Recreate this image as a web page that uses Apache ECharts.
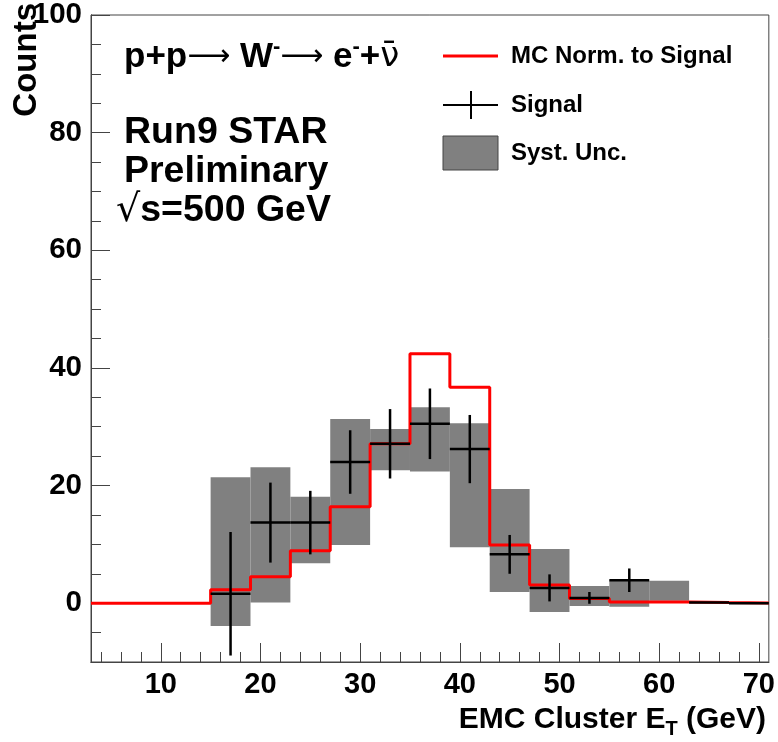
<!DOCTYPE html>
<html><head><meta charset="utf-8">
<script src="https://cdn.jsdelivr.net/npm/echarts@6/dist/echarts.min.js"></script>
<style>html,body{margin:0;padding:0;background:#fff}#c{width:778px;height:742px}</style>
</head><body><div id="c"></div>
<script>
// ---- data ----
const binEdges = [3,7,11,15,19,23,27,31,35,39,43,47,51,55,59,63,67,71];
const mcValues = [0,0,0,2.3,4.5,8.9,16.4,27.1,42.4,36.7,9.9,3.1,0.8,0.2,0.2,0.1,0.05];
const signalValues = [null,null,null,1.6,13.7,13.7,24.0,27.1,30.5,26.2,8.3,2.6,0.9,3.9,null,0.1,0.0];
const signalErrors = [null,null,null,10.5,6.8,5.4,5.4,5.9,6.0,5.8,3.3,2.3,1.0,2.0,null,0,0];
const systLow  = [null,null,null,-3.9,0.1,6.8,9.9,22.6,22.4,9.5,1.9,-1.5,-0.5,-0.6,0.4,null,null];
const systHigh = [null,null,null,21.4,23.1,18.1,31.3,29.6,33.3,30.6,19.4,9.2,2.9,3.9,3.8,null,null];
const xMajorTicks = [10,20,30,40,50,60,70];
const xMinorTicks = [4,6,8,12,14,16,18,22,24,26,28,32,34,36,38,42,44,46,48,52,54,56,58,62,64,66,68];
const yMajorTicks = [0,20,40,60,80,100];
const yMinorTicks = [-5,5,10,15,25,30,35,45,50,55,65,70,75,85,90,95];

// ---- build series data ----
const mcLine = [];
for (let i = 0; i < mcValues.length; i++) mcLine.push([binEdges[i], mcValues[i]]);
mcLine.push([binEdges[binEdges.length-1], mcValues[mcValues.length-1]]);
const systData = [], sigData = [];
for (let i = 0; i < mcValues.length; i++) {
  const lo = binEdges[i], hi = binEdges[i+1];
  if (systLow[i] !== null) systData.push([lo, hi, systLow[i], systHigh[i]]);
  if (signalValues[i] !== null) sigData.push([lo, hi, (lo+hi)/2, signalValues[i], signalErrors[i]]);
}

const FF = 'Liberation Sans, Arial, Helvetica, sans-serif';
const AX = '#444';
const chart = echarts.init(document.getElementById('c'), null, {renderer:'canvas'});

function axisBase(extra){ return Object.assign({
  type:'value', splitLine:{show:false}, axisLine:{show:true, onZero:false, lineStyle:{color:AX,width:1}}
}, extra); }

chart.setOption({
  animation:false,
  backgroundColor:'#fff',
  grid:{left:91, top:15, right:9, bottom:80, show:true, borderColor:AX, borderWidth:1, containLabel:false},
  xAxis:[
    axisBase({min:3, max:71, position:'bottom',
      axisTick:{show:true, inside:true, length:19, customValues:xMajorTicks, lineStyle:{color:AX,width:1}},
      axisLabel:{customValues:xMajorTicks, fontSize:29, fontWeight:'bold', color:'#000', fontFamily:FF, margin:8}}),
    axisBase({min:3, max:71, position:'bottom', offset:0,
      axisTick:{show:true, inside:true, length:10, customValues:xMinorTicks, lineStyle:{color:AX,width:1}},
      axisLabel:{show:false}})
  ],
  yAxis:[
    axisBase({min:-10, max:100, position:'left',
      axisTick:{show:true, inside:true, length:19, customValues:yMajorTicks, lineStyle:{color:AX,width:1}},
      axisLabel:{customValues:yMajorTicks, fontSize:29.5, fontWeight:'bold', color:'#000', fontFamily:FF, margin:9}}),
    axisBase({min:-10, max:100, position:'left', offset:0,
      axisTick:{show:true, inside:true, length:10, customValues:yMinorTicks, lineStyle:{color:AX,width:1}},
      axisLabel:{show:false}})
  ],
  series:[
    {
      name:'Syst. Unc.', type:'custom', xAxisIndex:0, yAxisIndex:0, z:2,
      data:systData, encode:{x:[0,1], y:[2,3]},
      renderItem:function(params, api){
        const p1 = api.coord([api.value(0), api.value(3)]);
        const p2 = api.coord([api.value(1), api.value(2)]);
        return {type:'rect', shape:{x:p1[0], y:p1[1], width:p2[0]-p1[0], height:p2[1]-p1[1]},
          style:{fill:'#808080'}};
      }
    },
    {
      name:'MC Norm. to Signal', type:'line', xAxisIndex:0, yAxisIndex:0, z:3,
      step:'end', showSymbol:false, symbol:'none', data:mcLine,
      lineStyle:{color:'#ff0000', width:3}
    },
    {
      name:'Signal', type:'custom', xAxisIndex:0, yAxisIndex:0, z:4,
      data:sigData, encode:{x:[0,1], y:3},
      renderItem:function(params, api){
        const lo = api.value(0), hi = api.value(1), xc = api.value(2), v = api.value(3), e = api.value(4);
        const a = api.coord([lo, v]), b = api.coord([hi, v]);
        const t = api.coord([xc, v+e]), u = api.coord([xc, v-e]);
        const st = {stroke:'#000', lineWidth:2.5};
        const ch = [{type:'line', shape:{x1:a[0], y1:a[1], x2:b[0], y2:b[1]}, style:st}];
        if (e > 0) ch.push({type:'line', shape:{x1:t[0], y1:t[1], x2:u[0], y2:u[1]}, style:st});
        return {type:'group', children:ch};
      }
    }
  ],
  graphic:[
    // axis titles
    {type:'text', x:766, y:720, style:{
      text:'{a|EMC Cluster E}{s|T}{a| (GeV)}', align:'right', verticalAlign:'middle',
      rich:{a:{fontSize:30, fontWeight:'bold', fontFamily:FF, fill:'#000', lineHeight:38},
            s:{fontSize:20, fontWeight:'bold', fontFamily:FF, fill:'#000', lineHeight:20, verticalAlign:'bottom'}}}},
    {type:'text', x:27, y:3, rotation:Math.PI/2, style:{
      text:'Counts', align:'right', verticalAlign:'middle', fontSize:33, fontWeight:'bold', fontFamily:FF, fill:'#000'}},
    // annotations
    {type:'text', x:124, y:57, style:{
      text:'{a|p+p}{r|⟶}{a| W}{p|-}{r|⟶}{a| e}{p|-}{a|+}{n|ν̄}', align:'left', verticalAlign:'middle',
      rich:{a:{fontSize:35, fontWeight:'bold', fontFamily:FF, fill:'#000', lineHeight:42},
            r:{fontSize:30, fontFamily:'DejaVu Sans', fill:'#000', lineHeight:42},
            p:{fontSize:22, fontWeight:'bold', fontFamily:FF, fill:'#000', lineHeight:22, verticalAlign:'top'},
            n:{fontSize:34, fontFamily:'DejaVu Sans', fill:'#000', lineHeight:42}}}},
    {type:'text', x:124, y:133, style:{text:'Run9 STAR', align:'left', verticalAlign:'middle', fontSize:37.5, fontWeight:'bold', fontFamily:FF, fill:'#000'}},
    {type:'text', x:124, y:172, style:{text:'Preliminary', align:'left', verticalAlign:'middle', fontSize:37.5, fontWeight:'bold', fontFamily:FF, fill:'#000'}},
    {type:'text', x:116, y:211, style:{
      text:'{r|√}{a|s=500 GeV}', align:'left', verticalAlign:'middle',
      rich:{a:{fontSize:37.5, fontWeight:'bold', fontFamily:FF, fill:'#000', lineHeight:42},
            r:{fontSize:38, fontFamily:'DejaVu Sans', fill:'#000', lineHeight:42}}}},
    // legend
    {type:'line', shape:{x1:443, y1:56, x2:498, y2:56}, style:{stroke:'#ff0000', lineWidth:3}},
    {type:'text', x:511, y:56, style:{text:'MC Norm. to Signal', align:'left', verticalAlign:'middle', fontSize:24, fontWeight:'bold', fontFamily:FF, fill:'#000'}},
    {type:'line', shape:{x1:443, y1:105, x2:498, y2:105}, style:{stroke:'#000', lineWidth:2}},
    {type:'line', shape:{x1:471, y1:91, x2:471, y2:119}, style:{stroke:'#000', lineWidth:2}},
    {type:'text', x:511, y:105, style:{text:'Signal', align:'left', verticalAlign:'middle', fontSize:24, fontWeight:'bold', fontFamily:FF, fill:'#000'}},
    {type:'rect', shape:{x:443, y:136, width:55, height:34}, style:{fill:'#808080', stroke:'#444', lineWidth:1}},
    {type:'text', x:511, y:153, style:{text:'Syst. Unc.', align:'left', verticalAlign:'middle', fontSize:24, fontWeight:'bold', fontFamily:FF, fill:'#000'}}
  ]
});
</script></body></html>
